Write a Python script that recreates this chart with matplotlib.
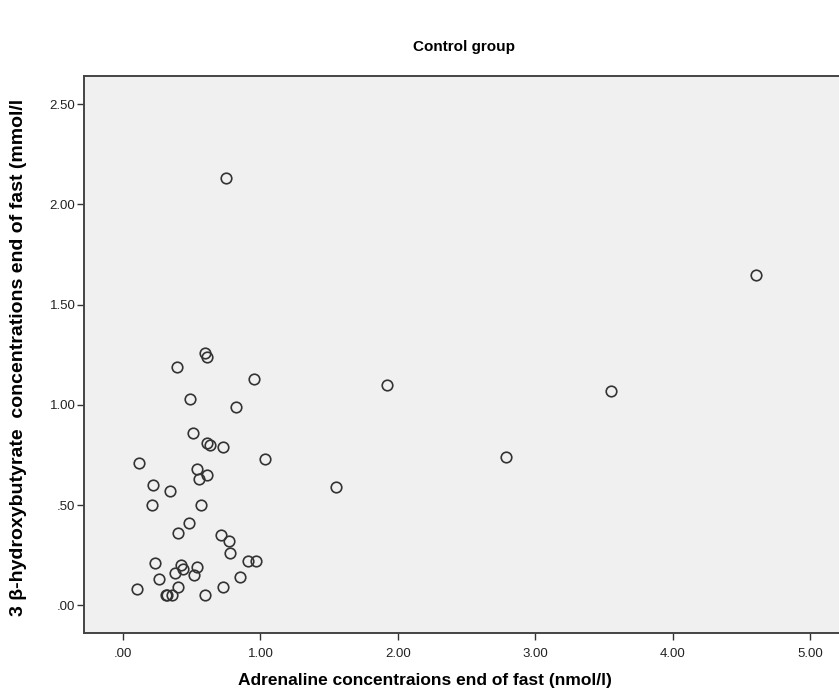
import matplotlib
matplotlib.use('Agg')
from matplotlib import pyplot

# adrenaline (nmol/l) vs 3 beta-hydroxybutyrate (mmol/l), end of fast
adrenaline = [0.60, 0.61, 0.39, 0.95, 0.49, 0.82, 0.51, 0.61, 0.63, 0.73,
              1.03, 0.12, 0.54, 0.61, 0.55, 0.22, 0.34, 0.21, 0.57, 0.48,
              0.40, 0.71, 0.77, 0.78, 0.91, 0.97, 0.23, 0.42, 0.54, 0.44,
              0.38, 0.52, 0.85, 0.26, 0.73, 0.40, 0.10, 0.31, 0.32, 0.36,
              0.60, 0.75, 4.61, 3.55, 1.92, 1.55, 2.79]
hydroxybutyrate = [1.26, 1.24, 1.19, 1.13, 1.03, 0.99, 0.86, 0.81, 0.80, 0.79,
                   0.73, 0.71, 0.68, 0.65, 0.63, 0.60, 0.57, 0.50, 0.50, 0.41,
                   0.36, 0.35, 0.32, 0.26, 0.22, 0.22, 0.21, 0.20, 0.19, 0.18,
                   0.16, 0.15, 0.14, 0.13, 0.09, 0.09, 0.08, 0.05, 0.05, 0.05,
                   0.05, 2.13, 1.65, 1.07, 1.10, 0.59, 0.74]

x_ticks = [0, 1, 2, 3, 4, 5]
x_tick_labels = ['.00', '1.00', '2.00', '3.00', '4.00', '5.00']
y_ticks = [0, 0.5, 1.0, 1.5, 2.0, 2.5]
y_tick_labels = ['.00', '.50', '1.00', '1.50', '2.00', '2.50']

pyplot.rcParams['font.family'] = ['Liberation Sans', 'DejaVu Sans']

fig = pyplot.figure(figsize=(8.39, 6.98), dpi=100)
ax = fig.add_axes([0.1001, 0.0931, 0.9005, 0.798])
ax.set_facecolor('#f0f0f0')

ax.plot(adrenaline, hydroxybutyrate, linestyle='none', marker='o',
        markersize=7.6, markerfacecolor='none', markeredgecolor='#333333',
        markeredgewidth=1.2)

ax.set_xlim(-0.284, 5.215)
ax.set_ylim(-0.138, 2.64)
ax.set_xticks(x_ticks)
ax.set_xticklabels(x_tick_labels)
ax.set_yticks(y_ticks)
ax.set_yticklabels(y_tick_labels)
ax.tick_params(direction='out', length=5.2, width=1.0, color='#333333',
               labelsize=9.5, labelcolor='#222222')
ax.tick_params(axis='y', pad=1)
ax.tick_params(axis='x', pad=5.5)

for side in ['left', 'bottom', 'top']:
    ax.spines[side].set_color('#444444')
    ax.spines[side].set_linewidth(1.4)
ax.spines['right'].set_visible(False)

ax.set_xlabel('Adrenaline concentraions end of fast (nmol/l)',
              fontsize=12.5, fontweight='bold')
ax.xaxis.set_label_coords(0.4517, -0.072)
ax.set_ylabel('3 \u03b2-hydroxybutyrate  concentrations end of fast (mmol/l',
              fontsize=14, fontweight='bold')
ax.yaxis.set_label_coords(-0.0755, 0.495)

fig.text(0.553, 0.933, 'Control group', ha='center', va='center',
         fontsize=11, fontweight='bold')

fig.savefig('out.png', dpi=100)
